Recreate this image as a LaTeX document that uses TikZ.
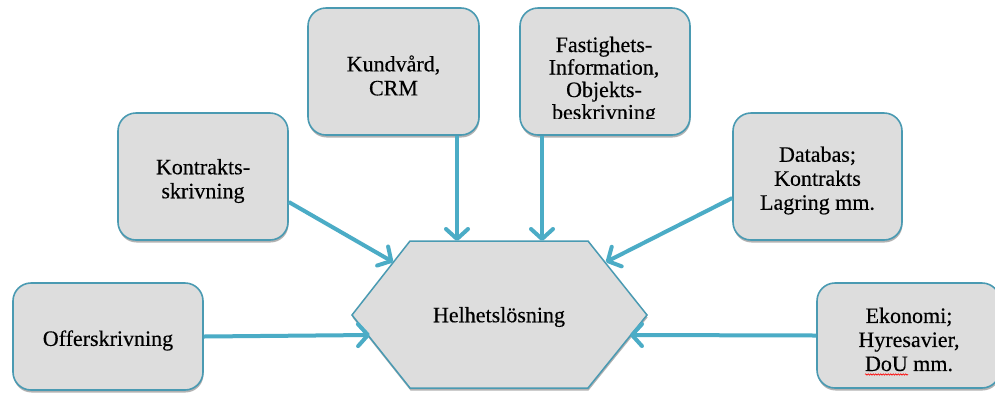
\documentclass[tikz,border=0pt]{standalone}
\usepackage{fontspec}
\setmainfont{Liberation Serif}
\newfontfamily\boxfont{Liberation Serif}[FakeBold=0.3]
\usetikzlibrary{arrows.meta,shadows,calc,decorations.pathmorphing}
\definecolor{boxfill}{HTML}{DDDDDD}
\definecolor{boxline}{HTML}{4A9AB2}
\definecolor{arrowc}{HTML}{4BACC6}
\begin{document}
\begin{tikzpicture}[x=1pt,y=-1pt,
  boxshadow/.style={drop shadow={shadow xshift=0.5pt, shadow yshift=-2.5pt, opacity=0.3, fill=black}},
  box/.style={draw=boxline, line width=1.6pt, fill=boxfill, rounded corners=18pt,
    inner sep=0pt, boxshadow},
  lbl/.style={align=center, inner sep=0pt, font=\boxfont\fontsize{22}{24}\selectfont},
  arr/.style={draw=arrowc, line width=4pt, -{Straight Barb[length=10pt,width=22pt,round]}}
]
\useasboundingbox (0,0) rectangle (995,392);
\clip (0,0) rectangle (995,392);
\fill[white] (0,0) rectangle (995,392);

% boxes
\node[box, minimum width=190pt, minimum height=107pt] (offer) at (108,336.5) {};
\node[lbl] (offertxt) at ($(offer)+(0,4)$) {Offerskrivning};
\node[box, minimum width=170pt, minimum height=127pt] (kontr) at (203,176.5) {};
\node[lbl] (kontrtxt) at ($(kontr)+(0,4.5)$) {Kontrakts-\\skrivning};
\node[box, minimum width=171pt, minimum height=127pt] (kund) at (393.5,71.5) {};
\node[lbl] (kundtxt) at ($(kund)+(0,4)$) {Kundvård,\\CRM};
\node[box, minimum width=170pt, minimum height=127pt] (fast) at (605,71.5) {};
\begin{scope}
  \clip (fast.north west) rectangle ($(fast.south east)+(0,-17)$);
  \node[lbl, font=\boxfont\fontsize{22}{22.5}\selectfont] (fasttxt) at (604,80.5) {Fastighets-\\Information,\\Objekts-\\beskrivning};
\end{scope}
\node[box, minimum width=169pt, minimum height=127pt] (datab) at (817.5,176.5) {};
\node[lbl] (databtxt) at ($(datab)+(0,4)$) {Databas;\\Kontrakts\\Lagring mm.};
\node[box, minimum width=183pt, minimum height=105pt] (ekon) at (908.5,335.5) {};
\node[lbl] (ekontxt) at (909,339.5) {Ekonomi;\\Hyresavier,\\DoU mm.};
\draw[red, line width=0.6pt, decorate, decoration={snake, amplitude=0.7pt, segment length=2.5pt}]
  ($(ekontxt.south)+(-44,3)$) -- ($(ekontxt.south)+(-1,3)$);

% central hexagon
\path[draw=boxline, line width=1.5pt, fill=boxfill, boxshadow]
  (410,241) -- (588,241) -- (647,315) -- (588,388) -- (410,388) -- (352,315) -- cycle;
\node[lbl] (hex) at (499,317) {Helhetslösning};

% arrow tips on the hexagon border
\coordinate (tKund) at (457,241);
\coordinate (tFast) at (542,241);
\coordinate (tKontr) at (393,262);
\coordinate (tDatab) at (606,262);
\coordinate (tOffer) at (370,335);
\coordinate (tEkon) at (630,335);

\draw[arr] (kund.south -| tKund) -- (tKund);
\draw[arr] (fast.south -| tFast) -- (tFast);
\draw[arr] ($(kontr.east)+(0,25.5)$) -- (tKontr);
\draw[arr] ($(datab.west)+(0,21.5)$) -- (tDatab);
\draw[arr] (offer.east) -- (tOffer);
\draw[arr] (ekon.west) -- (tEkon);
\end{tikzpicture}
\end{document}
